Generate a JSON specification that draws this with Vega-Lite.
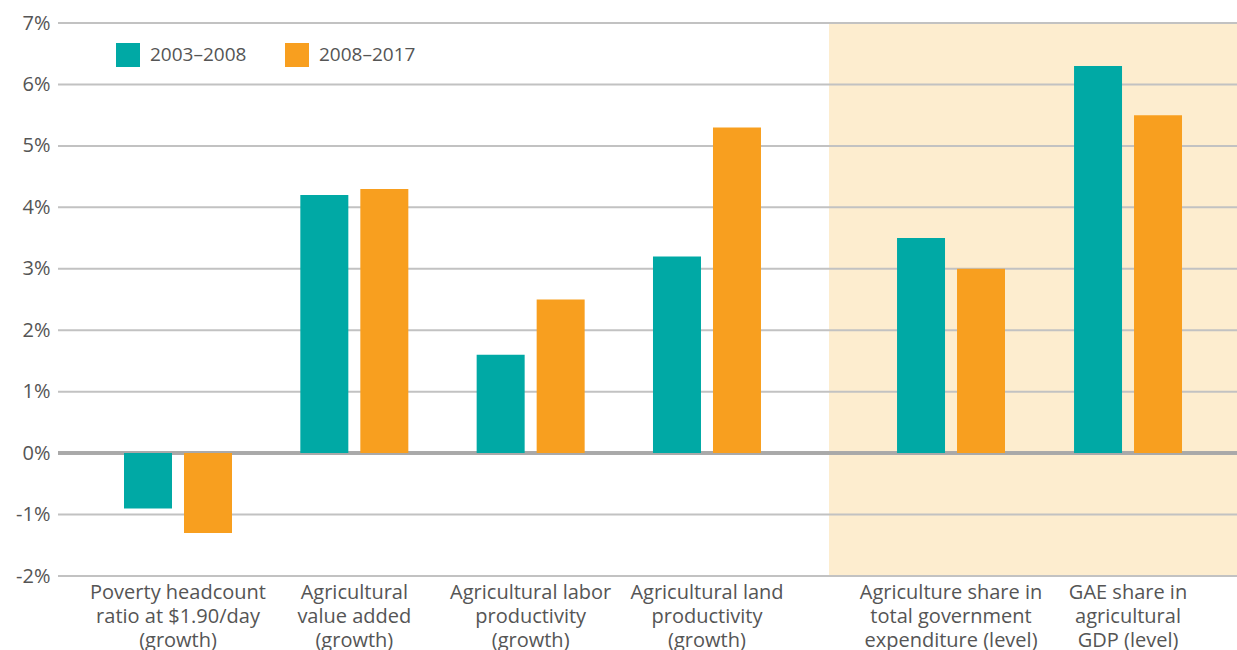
{
  "$schema": "https://vega.github.io/schema/vega-lite/v6.json",
  "autosize": "none",
  "padding": {"left": 58, "top": 23, "right": 0, "bottom": 74},
  "width": 1179,
  "height": 553,
  "background": "white",
  "config": {
    "view": {"stroke": null},
    "font": "Open Sans",
    "axis": {"labelFont": "Open Sans", "labelColor": "#555555", "labelFontSize": 20}
  },
  "datasets": {
    "bars": [
      {"category": "Poverty headcount|ratio at $1.90/day|(growth)", "panel": "growth", "period": "2003–2008", "value": -0.9},
      {"category": "Poverty headcount|ratio at $1.90/day|(growth)", "panel": "growth", "period": "2008–2017", "value": -1.3},
      {"category": "Agricultural|value added|(growth)", "panel": "growth", "period": "2003–2008", "value": 4.2},
      {"category": "Agricultural|value added|(growth)", "panel": "growth", "period": "2008–2017", "value": 4.3},
      {"category": "Agricultural labor|productivity|(growth)", "panel": "growth", "period": "2003–2008", "value": 1.6},
      {"category": "Agricultural labor|productivity|(growth)", "panel": "growth", "period": "2008–2017", "value": 2.5},
      {"category": "Agricultural land|productivity|(growth)", "panel": "growth", "period": "2003–2008", "value": 3.2},
      {"category": "Agricultural land|productivity|(growth)", "panel": "growth", "period": "2008–2017", "value": 5.3},
      {"category": "Agriculture share in|total government|expenditure (level)", "panel": "level", "period": "2003–2008", "value": 3.5},
      {"category": "Agriculture share in|total government|expenditure (level)", "panel": "level", "period": "2008–2017", "value": 3.0},
      {"category": "GAE share in|agricultural|GDP (level)", "panel": "level", "period": "2003–2008", "value": 6.3},
      {"category": "GAE share in|agricultural|GDP (level)", "panel": "level", "period": "2008–2017", "value": 5.5}
    ],
    "gridlines": [
      {"tick": -2}, {"tick": -1}, {"tick": 1}, {"tick": 2}, {"tick": 3},
      {"tick": 4}, {"tick": 5}, {"tick": 6}, {"tick": 7}
    ]
  },
  "resolve": {"scale": {"x": "independent", "xOffset": "independent"}, "axis": {"x": "independent"}},
  "layer": [
    {
      "data": {"name": "bars"},
      "transform": [
        {"filter": "datum.panel === 'level'"},
        {"aggregate": [{"op": "count", "as": "n"}], "groupby": ["category"]}
      ],
      "mark": {"type": "rect", "color": "#FDEDCF"},
      "encoding": {
        "x": {
          "field": "category", "type": "nominal", "sort": null,
          "scale": {"range": [771, 1179], "paddingInner": 0, "paddingOuter": 0},
          "axis": null
        },
        "y": {"datum": 7, "type": "quantitative", "scale": {"domain": [-2, 7], "nice": false, "zero": false}},
        "y2": {"datum": -2}
      }
    },
    {
      "data": {"name": "gridlines"},
      "mark": {"type": "rule", "color": "#c2c2c2", "strokeWidth": 2},
      "encoding": {
        "y": {"field": "tick", "type": "quantitative", "scale": {"domain": [-2, 7], "nice": false, "zero": false}}
      }
    },
    {
      "data": {"name": "bars"},
      "mark": {"type": "rule", "color": "#a9a9a9", "strokeWidth": 3},
      "encoding": {"y": {"datum": 0, "type": "quantitative"}}
    },
    {
      "data": {"name": "bars"},
      "transform": [{"filter": "datum.panel === 'growth'"}],
      "mark": {"type": "bar"},
      "encoding": {
        "x": {
          "field": "category", "type": "nominal", "sort": null,
          "scale": {"range": [0, 771], "paddingInner": 0.3875, "paddingOuter": 0.38, "align": 0.4925},
          "axis": {"title": null, "orient": "bottom", "labelExpr": "split(datum.label, '|')", "labelAngle": 0, "domain": false, "ticks": false, "labelPadding": 6, "labelLineHeight": 24, "labelLimit": 0}
        },
        "xOffset": {"field": "period", "type": "nominal", "scale": {"paddingInner": 0.2, "paddingOuter": 0}},
        "y": {
          "field": "value", "type": "quantitative",
          "scale": {"domain": [-2, 7], "nice": false, "zero": false},
          "axis": {
            "title": null, "values": [-2, -1, 0, 1, 2, 3, 4, 5, 6, 7],
            "labelExpr": "datum.value + '%'", "domain": false, "ticks": false, "labelPadding": 8,
            "grid": false
          }
        },
        "color": {
          "field": "period", "type": "nominal",
          "scale": {"domain": ["2003–2008", "2008–2017"], "range": ["#00A9A5", "#F89F1F"]},
          "legend": {
            "title": null, "orient": "none", "legendX": 58, "legendY": 20, "direction": "horizontal",
            "symbolType": "square", "symbolSize": 576, "symbolStrokeWidth": 0, "symbolOpacity": 1,
            "labelFontSize": 19, "labelFont": "Open Sans", "labelColor": "#555555", "labelOffset": 10,
            "columnPadding": 38, "padding": 0
          }
        }
      }
    },
    {
      "data": {"name": "bars"},
      "transform": [{"filter": "datum.panel === 'level'"}],
      "mark": {"type": "bar"},
      "encoding": {
        "x": {
          "field": "category", "type": "nominal", "sort": null,
          "scale": {"range": [771, 1179], "paddingInner": 0.39, "paddingOuter": 0.3475, "align": 0.553},
          "axis": {"title": null, "orient": "bottom", "labelExpr": "split(datum.label, '|')", "labelAngle": 0, "domain": false, "ticks": false, "labelPadding": 6, "labelLineHeight": 24, "labelLimit": 0}
        },
        "xOffset": {"field": "period", "type": "nominal", "scale": {"paddingInner": 0.2, "paddingOuter": 0}},
        "y": {"field": "value", "type": "quantitative"},
        "color": {"field": "period", "type": "nominal"}
      }
    }
  ]
}
